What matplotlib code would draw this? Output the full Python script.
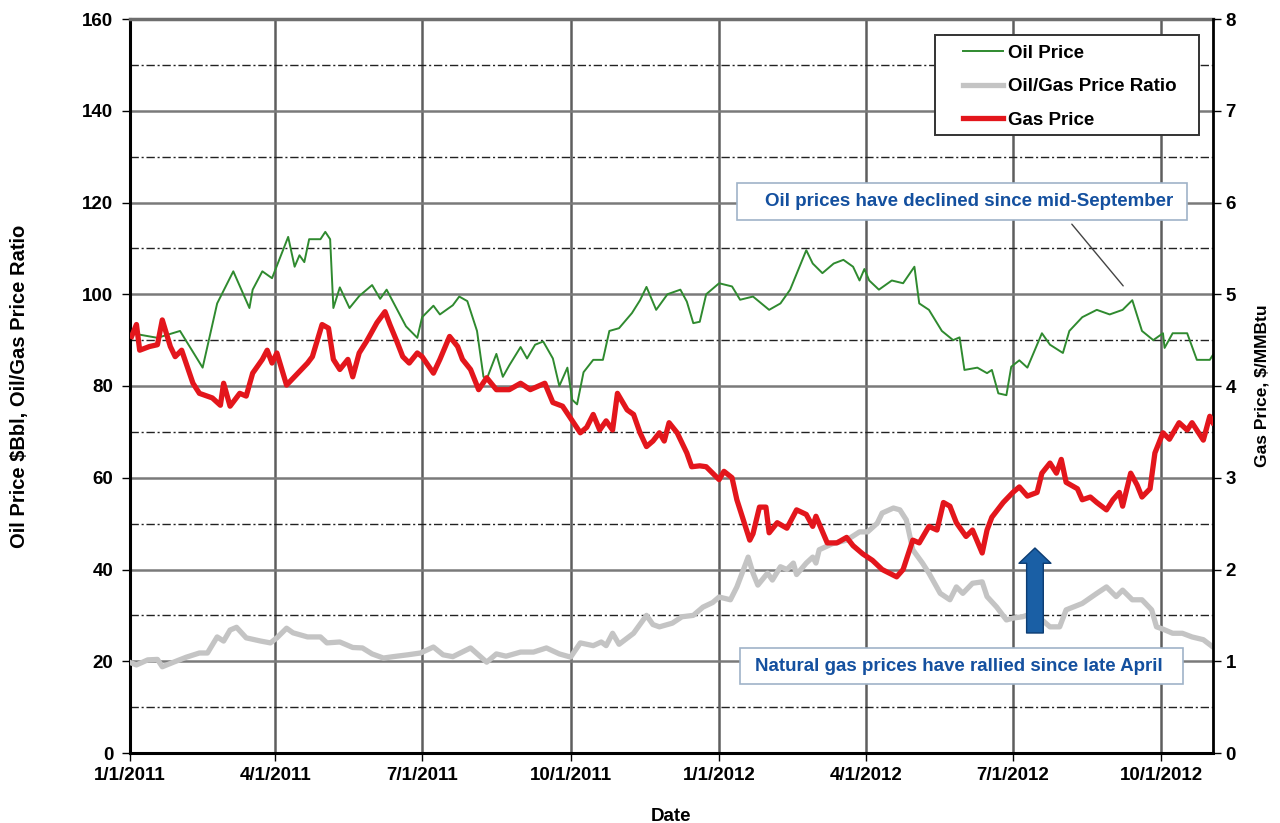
import matplotlib
matplotlib.use("Agg")
import matplotlib.pyplot as plt
import matplotlib.dates as mdates
from matplotlib.patches import Rectangle
from matplotlib.ticker import FuncFormatter
import numpy as np
import pandas as pd

plt.rcParams["font.family"] = ["Liberation Sans", "DejaVu Sans"]
plt.rcParams["font.weight"] = "bold"

# ── data (x = days after 1 Jan 2011) ────────────────────────────────────────
START = pd.Timestamp("2011-01-01")
END_DAY = 671

oil_day = [
    1, 9, 17, 31, 45, 54, 64, 74, 76, 82,
    88, 93, 98, 102, 105, 108, 111, 118, 121, 124,
    126, 130, 136, 142, 150, 155, 159, 165, 171, 178,
    181, 188, 192, 200, 204, 209, 215, 219, 221, 227,
    231, 235, 242, 246, 251, 256, 262, 266, 271, 274,
    277, 281, 287, 293, 297, 303, 311, 316, 320, 326,
    333, 341, 345, 349, 353, 357, 365, 373, 378, 386,
    396, 403, 409, 419, 423, 429, 436, 442, 448, 452,
    455, 458, 464, 472, 479, 486, 489, 495, 503, 510,
    514, 517, 525, 531, 534, 538, 543, 546, 551, 556,
    565, 570, 578, 582, 590, 599, 607, 615, 621, 627,
    634, 640, 641, 646, 655, 661, 669, 671,
]
oil_price = [
    91.5, 91, 90.5, 92, 84, 98, 105, 97, 101, 105,
    103.5, 108, 112.5, 106, 108.5, 107, 112, 112, 113.6, 112,
    97, 101.5, 97, 99.6, 102, 99, 101, 97, 93, 90.5,
    95, 97.5, 95.6, 97.6, 99.5, 98.5, 92, 82, 81.5, 87,
    82, 84.5, 88.5, 86, 89, 89.7, 86, 80, 84, 77,
    76, 83, 85.7, 85.7, 92, 92.6, 95.9, 98.7, 101.6, 96.6,
    100, 101, 98.4, 93.7, 94, 100, 102.4, 101.7, 98.8, 99.5,
    96.6, 98, 101, 109.6, 106.7, 104.6, 106.7, 107.5, 106, 103,
    105.5, 103, 101, 103, 102.4, 106, 98, 96.6, 92, 90,
    90.6, 83.5, 84, 82.8, 83.5, 78.4, 78, 84.2, 85.6, 84,
    91.5, 89, 87.2, 92, 95, 96.6, 95.6, 96.6, 98.7, 92,
    90, 91.5, 88.3, 91.5, 91.5, 85.7, 85.7, 86.8,
]

gas_day = [
    1, 4, 6, 12, 17, 20, 25, 28, 32, 39,
    43, 51, 56, 58, 62, 68, 72, 76, 82, 85,
    88, 91, 97, 104, 110, 113, 119, 123, 126, 130,
    135, 138, 142, 147, 153, 158, 161, 165, 169, 173,
    178, 181, 188, 192, 198, 203, 206, 211, 216, 221,
    227, 235, 242, 248, 257, 262, 268, 279, 283, 287,
    291, 295, 299, 302, 308, 312, 316, 320, 324, 328,
    331, 334, 339, 345, 348, 353, 357, 361, 365, 368,
    373, 376, 380, 384, 386, 390, 394, 396, 401, 407,
    413, 419, 423, 425, 432, 438, 444, 448, 454, 460,
    466, 475, 479, 485, 489, 495, 500, 504, 508, 512,
    518, 522, 528, 531, 534, 541, 547, 551, 556, 562,
    565, 570, 574, 577, 580, 587, 590, 595, 599, 605,
    609, 613, 615, 620, 624, 627, 632, 635, 640, 644,
    650, 655, 658, 665, 669, 671,
]
gas_price = [
    4.54, 4.67, 4.39, 4.43, 4.45, 4.72, 4.43, 4.32, 4.39, 4.03,
    3.92, 3.87, 3.79, 4.03, 3.78, 3.92, 3.89, 4.14, 4.29, 4.39,
    4.25, 4.36, 4.01, 4.14, 4.25, 4.32, 4.67, 4.63, 4.29, 4.18,
    4.29, 4.10, 4.36, 4.50, 4.69, 4.81, 4.67, 4.50, 4.32, 4.25,
    4.36, 4.32, 4.14, 4.29, 4.54, 4.43, 4.29, 4.18, 3.96, 4.09,
    3.96, 3.96, 4.03, 3.96, 4.03, 3.82, 3.78, 3.49, 3.55, 3.69,
    3.52, 3.62, 3.52, 3.92, 3.74, 3.69, 3.49, 3.34, 3.40, 3.49,
    3.40, 3.60, 3.49, 3.27, 3.12, 3.13, 3.12, 3.05, 2.98, 3.07,
    3.00, 2.76, 2.54, 2.32, 2.39, 2.68, 2.68, 2.40, 2.51, 2.45,
    2.65, 2.60, 2.47, 2.58, 2.29, 2.29, 2.35, 2.26, 2.17, 2.10,
    2.00, 1.92, 2.00, 2.32, 2.29, 2.47, 2.43, 2.73, 2.69, 2.51,
    2.36, 2.43, 2.18, 2.43, 2.57, 2.73, 2.84, 2.90, 2.80, 2.84,
    3.05, 3.16, 3.05, 3.20, 2.95, 2.88, 2.76, 2.79, 2.73, 2.65,
    2.76, 2.84, 2.69, 3.05, 2.92, 2.79, 2.88, 3.27, 3.49, 3.42,
    3.60, 3.52, 3.60, 3.41, 3.67, 3.60,
]

ratio_day = [
    1, 4, 11, 17, 20, 27, 35, 43, 48, 54,
    58, 62, 66, 72, 81, 87, 91, 97, 101, 110,
    118, 122, 130, 138, 144, 150, 157, 163, 172, 180,
    188, 194, 200, 211, 221, 227, 233, 242, 250, 258,
    266, 273, 279, 287, 292, 295, 299, 303, 312, 320,
    324, 328, 336, 342, 349, 355, 361, 365, 372, 376,
    380, 383, 386, 389, 395, 398, 403, 407, 411, 413,
    419, 423, 425, 427, 435, 444, 452, 457, 463, 466,
    473, 477, 481, 485, 491, 495, 502, 508, 512, 516,
    522, 528, 531, 537, 543, 547, 553, 559, 565, 570,
    576, 580, 590, 599, 605, 611, 615, 621, 627, 633,
    636, 640, 646, 652, 658, 665, 671,
]
price_ratio = [
    19.6, 19.2, 20.3, 20.4, 18.8, 19.8, 20.9, 21.8, 21.8, 25.3,
    24.4, 26.8, 27.4, 25.1, 24.4, 24, 25.1, 27.2, 26.2, 25.3,
    25.3, 24, 24.2, 23, 22.9, 21.6, 20.7, 21, 21.4, 21.8,
    23.1, 21.4, 21, 22.9, 19.8, 21.6, 21.1, 22, 22, 22.9,
    21.6, 20.9, 24, 23.4, 24.2, 23.4, 26.1, 23.7, 26.1, 30,
    28, 27.5, 28.3, 29.7, 30, 31.8, 32.8, 34, 33.4, 36.2,
    39.9, 42.7, 39.2, 36.6, 39.2, 37.7, 40.6, 40, 41.4, 38.9,
    41.4, 42.7, 41.4, 44.3, 45.6, 46.4, 48.2, 48.2, 50.1, 52.3,
    53.4, 53, 50.8, 44.3, 41.4, 39.2, 34.8, 33.4, 36.2, 34.8,
    37, 37.3, 34.1, 31.8, 29, 29.4, 29.7, 30.4, 29, 27.5,
    27.5, 31.2, 32.6, 34.8, 36.2, 34.1, 35.5, 33.4, 33.4, 31.2,
    27.5, 27, 26.1, 26.1, 25.3, 24.7, 23.1,
]

left_ticks = [0, 20, 40, 60, 80, 100, 120, 140, 160]
right_ticks = [0, 1, 2, 3, 4, 5, 6, 7, 8]

OIL_C = "#2f8a2f"
GAS_C = "#e3161c"
RATIO_C = "#c4c4c4"
NOTE_C = "#14509f"
FS = 13.5


def to_dates(days):
    return START + pd.to_timedelta(np.asarray(days), unit="D")


def frame(axis, x0, y0, x1, y1, ec, lw, z):
    """Plain white box, given in axes-fraction corners."""
    axis.add_patch(Rectangle((x0, y0), x1 - x0, y1 - y0, transform=axis.transAxes,
                             fc="white", ec=ec, lw=lw, zorder=z, clip_on=False))


fig = plt.figure(figsize=(12.8, 8.23), dpi=100)
ax = fig.add_axes([130 / 1280, 1 - 753 / 823, 1083 / 1280, 734 / 823])
ax2 = ax.twinx()

ratio_line, = ax.plot(to_dates(ratio_day), price_ratio, color=RATIO_C, lw=3.8,
                      solid_joinstyle="round", zorder=3, label="Oil/Gas Price Ratio")
oil_line, = ax.plot(to_dates(oil_day), oil_price, color=OIL_C, lw=1.4,
                    zorder=4, label="Oil Price")
gas_line, = ax2.plot(to_dates(gas_day), gas_price, color=GAS_C, lw=3.8,
                     solid_joinstyle="round", zorder=3, label="Gas Price")

# ── axes, grid ───────────────────────────────────────────────────────────────
ax.set_xlim(START, START + pd.Timedelta(days=END_DAY))
ax.set_ylim(0, 160)
ax2.set_ylim(0, 8)
ax.set_yticks(left_ticks)
ax.set_yticks([10, 30, 50, 70, 90, 110, 130, 150], minor=True)
ax2.set_yticks(right_ticks)

ax.xaxis.set_major_locator(mdates.MonthLocator(bymonth=[1, 4, 7, 10]))
ax.xaxis.set_major_formatter(FuncFormatter(
    lambda v, pos: "{0.month}/{0.day}/{0.year}".format(mdates.num2date(v))))

ax.grid(which="major", axis="y", color="#7a7a7a", lw=1.8, zorder=1)
ax.grid(which="major", axis="x", color="#5e5e5e", lw=1.8, zorder=1)
ax.grid(which="minor", axis="y", color="#222222", lw=1.0,
        linestyle=(0, (6, 2, 1.5, 2)), zorder=1)
ax.set_axisbelow(True)

ax.tick_params(axis="y", which="major", direction="out", length=6, width=1,
               pad=6, labelsize=FS)
ax.tick_params(axis="y", which="minor", length=0)
ax.tick_params(axis="x", direction="out", length=6, width=1, pad=4, labelsize=FS)
ax2.tick_params(axis="y", direction="out", length=6, width=1, pad=3, labelsize=FS)

for side in ("left", "bottom"):
    ax.spines[side].set_linewidth(2.2)
    ax.spines[side].set_color("black")
ax.spines["top"].set_linewidth(2.5)
ax.spines["top"].set_color("#6e6e6e")
ax.spines["right"].set_visible(False)
for side in ("left", "top", "bottom"):
    ax2.spines[side].set_visible(False)
ax2.spines["right"].set_linewidth(2.0)
ax2.spines["right"].set_color("black")

ax.set_ylabel("Oil Price $Bbl, Oil/Gas Price Ratio", fontsize=14.5, fontweight="bold")
ax.yaxis.set_label_coords(-0.093, 0.5)
ax2.set_ylabel("Gas Price, $/MMBtu", fontsize=12.5, fontweight="bold")
ax2.yaxis.set_label_coords(1.038, 0.5)
ax.set_xlabel("Date", fontsize=FS, fontweight="bold")
ax.xaxis.set_label_coords(0.5, -0.075)

# ── legend (own frame so the padding matches the original) ──────────────────
frame(ax2, 0.7433, 0.8420, 0.9871, 0.9782, "#333333", 1.4, 4.5)
ax2.legend([oil_line, ratio_line, gas_line],
           [h.get_label() for h in (oil_line, ratio_line, gas_line)],
           loc="upper left", bbox_to_anchor=(0.769, 0.9652),
           borderaxespad=0, borderpad=0, frameon=False,
           handlelength=2.15, handletextpad=0.27, labelspacing=0.87,
           prop={"size": FS, "weight": "bold"})

# ── annotations ──────────────────────────────────────────────────────────────
ax2.annotate("", xy=(0.9187, 0.6335), xytext=(0.868, 0.7234),
             xycoords="axes fraction", textcoords="axes fraction",
             arrowprops=dict(arrowstyle="-", color="#444444", lw=1.0),
             zorder=5)
frame(ax2, 0.5605, 0.7262, 0.976, 0.7766, "#9fb3c8", 1.2, 5.5)
ax2.text(0.7747, 0.752, "Oil prices have declined since mid-September",
         transform=ax2.transAxes, ha="center", va="center", fontsize=FS,
         fontweight="bold", color=NOTE_C, zorder=6)
frame(ax2, 0.5633, 0.094, 0.9723, 0.1431, "#9fb3c8", 1.2, 5.5)
ax2.text(0.765, 0.1185, "Natural gas prices have rallied since late April",
         transform=ax2.transAxes, ha="center", va="center", fontsize=FS,
         fontweight="bold", color=NOTE_C, zorder=6)
ax2.annotate("", xy=(0.8356, 0.2793), xytext=(0.8356, 0.1635),
             xycoords="axes fraction", textcoords="axes fraction",
             arrowprops=dict(arrowstyle="simple,head_length=11,head_width=23,tail_width=12",
                             mutation_scale=1, shrinkA=0, shrinkB=0,
                             fc="#1a5fa5", ec="#0c3c72", lw=1.0),
             zorder=6)

fig.savefig("out.png", dpi=100, facecolor="white")
